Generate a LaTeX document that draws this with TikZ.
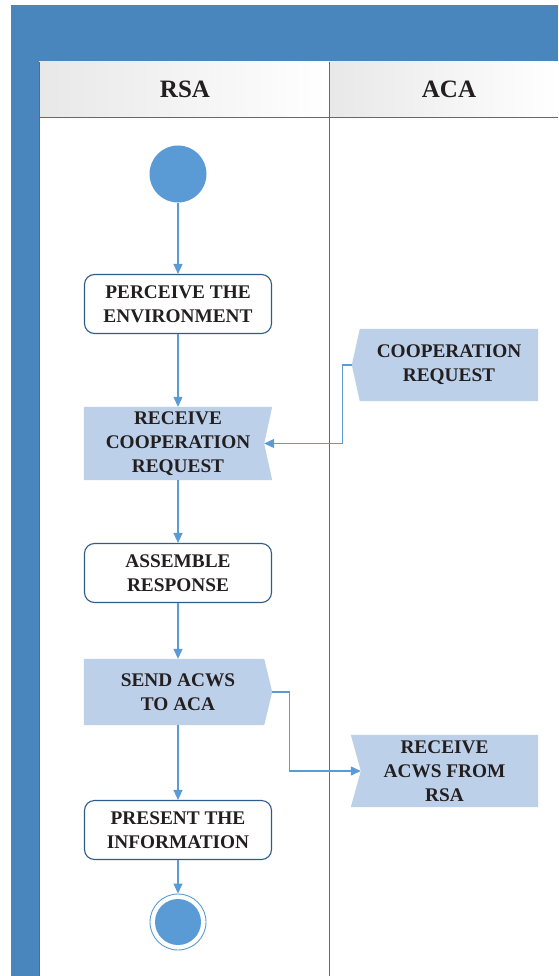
\documentclass[tikz,border=0pt]{standalone}
\usepackage{fontspec}
\setmainfont{Liberation Serif}
\usetikzlibrary{arrows.meta,backgrounds}
\pgfdeclarelayer{bgzero}
\pgfsetlayers{bgzero,background,main}
\definecolor{band}{HTML}{4A86BE}
\definecolor{lanel}{HTML}{41719C}
\definecolor{dot}{HTML}{5B9BD5}
\definecolor{sigf}{HTML}{BDD0E9}
\definecolor{boxl}{HTML}{2E5C8A}
\definecolor{txt}{HTML}{231F20}
\tikzset{
  lbl/.style={font=\fontsize{19.3}{24}\selectfont\bfseries, text=txt, align=center, inner sep=0pt},
  actbox/.style={lbl, draw=boxl, line width=1.1pt, fill=white, rounded corners=10pt, minimum width=187pt, minimum height=59pt},
  sigbox/.style={lbl},
  conn/.style={draw=dot, line width=1.1pt, -{Triangle[width=9pt,length=10pt]}},
  hdr/.style={font=\fontsize{25}{28}\selectfont\bfseries, text=txt}
}
\begin{document}
\begin{tikzpicture}[x=1pt,y=-1pt]
\useasboundingbox (0,0) rectangle (558,976);
\begin{pgfonlayer}{bgzero}
\fill[white] (0,0) rectangle (558,976);
\end{pgfonlayer}
% pool frame
\fill[band] (11,5) rectangle (558,62);
\fill[band] (11,62) rectangle (39,976);
\shade[left color=black!9, right color=white] (39,62) rectangle (329,117);
\shade[left color=black!9, right color=white] (329,62) rectangle (558,117);
\draw[lanel, line width=0.8pt] (39,117) -- (558,117);
\draw[lanel, line width=0.8pt] (329,62) -- (329,976);
\draw[lanel, line width=0.8pt] (39,62) -- (39,976);
\node[hdr] (hrsa) at (185,89) {RSA};
\node[hdr] (haca) at (449,89) {ACA};
% nodes
\node[circle, fill=dot, minimum size=57pt, inner sep=0pt] (start) at (178,174) {};
\node[actbox] (perc) at (178,304) {PERCEIVE THE\\ENVIRONMENT};
\node[sigbox, minimum width=188pt, minimum height=73pt] (rcv) at (178,443.5) {RECEIVE\\COOPERATION\\REQUEST};
\node[sigbox, minimum width=178pt, minimum height=72pt] (coop) at (449,365) {COOPERATION\\REQUEST};
\node[actbox] (asm) at (178,573) {ASSEMBLE\\RESPONSE};
\node[sigbox, minimum width=180pt, minimum height=66pt] (send) at (174,692) {\hspace*{8pt}SEND ACWS\\\hspace*{8pt}TO ACA};
\node[sigbox, minimum width=187pt, minimum height=72pt] (racws) at (444.5,771) {RECEIVE\\ACWS FROM\\RSA};
\node[actbox] (pres) at (178,830) {PRESENT THE\\INFORMATION};
\node[circle, draw=dot, line width=0.9pt, fill=white, minimum size=56pt, inner sep=0pt] (endc) at (178,922) {};
\fill[dot] (endc.center) circle (23pt);
\coordinate (rcvn) at ([xshift=-8pt]rcv.east);
\coordinate (coopp) at ([xshift=-8pt]coop.west);
\coordinate (sendp) at ([xshift=8pt]send.east);
\coordinate (racwsn) at ([xshift=10pt]racws.west);
\begin{scope}[on background layer]
\fill[sigf] (rcv.north west) -- (rcv.north east) -- (rcvn) -- (rcv.south east) -- (rcv.south west) -- cycle;
\fill[sigf] (coop.north west) -- (coop.north east) -- (coop.south east) -- (coop.south west) -- (coopp) -- cycle;
\fill[sigf] (send.north west) -- (send.north east) -- (sendp) -- (send.south east) -- (send.south west) -- cycle;
\fill[sigf] (racws.north west) -- (racws.north east) -- (racws.south east) -- (racws.south west) -- (racwsn) -- cycle;
\end{scope}
% connectors
\draw[conn] (start) -- (perc);
\draw[conn] (perc) -- (rcv);
\draw[conn] (rcv) -- (asm);
\draw[conn] (asm.south) -- (asm.south |- send.north);
\draw[conn] (send.south -| pres.north) -- (pres);
\draw[conn] (pres) -- (endc);
\draw[conn] (coopp) -- ++(-9,0) |- (rcvn);
\draw[conn] (sendp) -- ++(17,0) |- (racwsn);
\end{tikzpicture}
\end{document}
